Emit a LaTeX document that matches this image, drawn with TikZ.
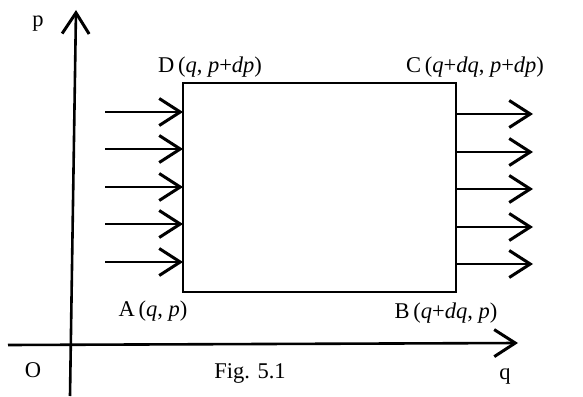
\documentclass[tikz,border=0pt]{standalone}
\usepackage{fontspec}
\setmainfont{Liberation Serif}
\usetikzlibrary{arrows.meta}
\begin{document}
\begin{tikzpicture}[x=1pt,y=-1pt,
  line/.style={line width=2.6pt},
  arr/.style={line width=2.6pt,-{Straight Barb[length=21pt,width=27pt,line width=3pt]}},
  lab/.style={font=\fontsize{22.5}{24}\selectfont,inner sep=0pt}]
\useasboundingbox (0,0) rectangle (583,396);
% axes
\coordinate (ybot) at (70,396);
\coordinate (ytop) at (76,10);
\coordinate (xl) at (8,345);
\coordinate (xr) at (518,343);
\draw[arr] (ybot) -- (ytop);
\draw[arr] (xl) -- (xr);
% rectangle
\coordinate (A) at (183,292);
\coordinate (B) at (456,292);
\coordinate (C) at (456,83);
\coordinate (D) at (183,83);
\draw[line,line join=miter] (A) -- (B) -- (C) -- (D) -- cycle;
% left arrows
\foreach \y [count=\i] in {112,149,187,224,262}{
  \coordinate (ls\i) at (105,\y);
  \coordinate (le\i) at (183,\y);
  \draw[arr] (ls\i) -- (le\i);
}
\foreach \y [count=\i] in {114,152,189,227,264}{
  \coordinate (rs\i) at (456,\y);
  \coordinate (re\i) at (533,\y);
  \draw[arr] (rs\i) -- (re\i);
}
% labels
\node[lab] (lp) at (38,24) {p};
\node[lab] (lD) at (210,67) {D\,(\textit{q}, \textit{p}+\textit{dp})};
\node[lab] (lC) at (475,67) {C\,(\textit{q}+\textit{dq}, \textit{p}+\textit{dp})};
\node[lab] (lA) at (153,311) {A\,(\textit{q}, \textit{p})};
\node[lab] (lB) at (446,313) {B\,(\textit{q}+\textit{dq}, \textit{p})};
\node[lab] (lO) at (33,370) {O};
\node[lab] (lF) at (250,373) {Fig. 5.1};
\node[lab] (lq) at (505,376) {q};
\end{tikzpicture}
\end{document}
